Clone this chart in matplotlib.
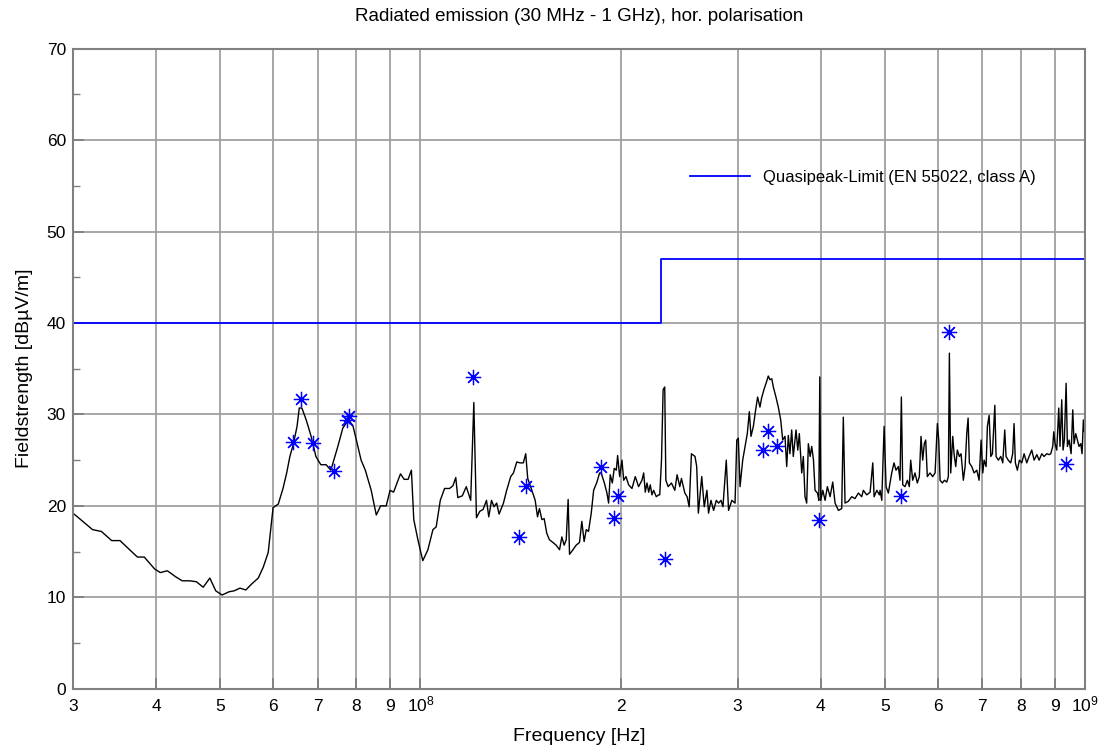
import matplotlib
matplotlib.use("Agg")
import matplotlib.pyplot as plt
from matplotlib.ticker import FixedLocator, NullFormatter, MultipleLocator

plt.rcParams['font.family'] = ['Liberation Sans', 'DejaVu Sans']
plt.rcParams['mathtext.fontset'] = 'custom'
plt.rcParams['mathtext.rm'] = 'Liberation Sans'
plt.rcParams['mathtext.default'] = 'regular'

# measured trace: frequency in MHz, level in dBuV/m
freq_mhz = [
    30.0, 32.1, 33.1, 34.3, 35.3, 37.5, 38.4, 39.8, 40.6, 41.6, 42.8, 43.8, 45.0, 46.0, 47.1, 48.2,
    49.2, 50.3, 51.5, 52.4, 53.5, 54.6, 55.7, 57.0, 58.0, 59.0, 60.0, 61.1, 62.1, 62.9, 63.6, 64.4,
    65.2, 65.7, 66.3, 67.3, 68.4, 69.6, 70.8, 72.1, 73.3, 75.1, 76.4, 77.9, 79.1, 80.2, 81.4, 82.6,
    84.3, 85.8, 87.1, 88.8, 90.0, 91.1, 93.3, 94.5, 95.8, 96.9, 97.7, 99.1, 100.8, 102.6, 104.4, 105.6,
    107.1, 108.7, 110.6, 111.9, 113.0, 113.8, 115.6, 117.2, 119.0, 120.3, 121.4, 122.8, 124.2, 125.7, 126.7, 127.9,
    129.0, 130.2, 131.3, 133.3, 134.8, 136.7, 138.0, 139.6, 141.2, 142.8, 144.0, 145.0, 147.1, 148.8, 150.0, 151.0,
    152.3, 153.5, 154.9, 156.3, 158.2, 160.0, 161.9, 163.2, 164.5, 165.7, 166.8, 167.6, 169.6, 171.5, 173.5, 174.9,
    176.3, 177.6, 179.0, 180.7, 182.2, 184.3, 186.0, 187.0, 189.1, 190.8, 191.9, 193.0, 194.4, 195.7, 197.1, 198.0,
    199.4, 201.0, 202.2, 203.8, 205.7, 208.1, 210.5, 212.9, 215.4, 216.7, 217.9, 219.2, 220.5, 221.7, 223.0, 224.3,
    226.4, 228.2, 229.1, 230.5, 231.8, 233.1, 234.0, 235.9, 238.6, 241.4, 243.3, 245.6, 247.0, 249.9, 251.9, 253.7,
    255.7, 258.9, 260.4, 261.9, 265.0, 267.3, 269.8, 271.3, 273.6, 276.1, 278.7, 280.9, 283.3, 285.2, 288.5, 290.8,
    294.1, 297.4, 299.2, 300.8, 302.6, 305.4, 307.9, 310.3, 312.5, 314.3, 316.9, 319.4, 321.6, 324.2, 326.1, 328.7,
    331.8, 333.7, 335.6, 337.8, 339.6, 342.7, 345.5, 348.4, 350.8, 353.6, 355.7, 357.7, 359.7, 361.9, 363.9, 367.4,
    369.6, 371.6, 374.7, 376.8, 379.0, 381.2, 383.4, 385.8, 387.9, 390.3, 392.4, 395.8, 397.6, 398.9, 400.3, 403.1,
    406.3, 409.5, 413.4, 417.2, 420.6, 425.5, 430.4, 432.8, 435.4, 440.4, 445.6, 450.7, 456.0, 461.3, 463.9, 469.4,
    474.9, 479.3, 481.5, 486.1, 490.5, 491.6, 494.5, 498.5, 501.9, 505.9, 511.8, 515.9, 519.5, 523.7, 526.8, 529.2,
    531.7, 536.0, 540.3, 544.0, 546.6, 550.4, 554.8, 559.3, 563.2, 566.5, 569.8, 573.0, 575.8, 579.0, 584.4, 589.8,
    594.8, 599.5, 602.4, 605.2, 610.0, 614.3, 619.4, 622.8, 625.0, 627.9, 632.3, 635.2, 638.9, 642.5, 647.0, 650.8,
    656.0, 660.0, 663.8, 666.9, 669.8, 675.4, 680.9, 687.3, 692.8, 697.6, 701.7, 704.9, 709.8, 713.0, 717.3, 721.5,
    725.5, 731.6, 734.8, 740.6, 746.8, 752.0, 757.2, 760.6, 766.4, 773.0, 778.3, 782.0, 785.6, 791.0, 796.6, 803.2,
    809.7, 817.2, 823.8, 831.5, 838.3, 846.2, 852.9, 860.9, 867.7, 876.0, 883.0, 888.0, 894.2, 897.3, 901.4, 906.7,
    913.0, 917.0, 922.5, 926.7, 930.9, 936.6, 940.8, 946.3, 952.9, 958.4, 962.7, 968.3, 973.9, 979.5, 985.4, 989.8,
    994.3, 997.7, 1000.0,
]
level_db = [
    19.2, 17.4, 17.2, 16.2, 16.2, 14.4, 14.4, 13.1, 12.7, 12.9, 12.25, 11.8, 11.8, 11.7, 11.1, 12.1,
    10.7, 10.25, 10.6, 10.7, 11.0, 10.8, 11.45, 12.1, 13.3, 14.9, 19.8, 20.2, 21.9, 23.6, 25.4, 26.8,
    28.7, 30.7, 30.7, 29.4, 27.7, 25.4, 24.5, 24.5, 23.9, 26.5, 28.5, 29.4, 28.8, 27.0, 25.0, 23.9,
    21.7, 19.0, 20.0, 20.0, 21.7, 21.5, 23.5, 22.9, 22.9, 23.9, 18.5, 16.3, 14.0, 15.2, 17.4, 17.7,
    20.6, 21.9, 21.9, 22.2, 23.1, 20.9, 21.1, 22.1, 20.6, 31.3, 18.7, 19.4, 19.6, 20.6, 18.8, 20.6,
    19.9, 20.3, 19.1, 20.3, 21.7, 23.2, 23.6, 24.8, 24.7, 24.7, 25.7, 23.0, 21.7, 20.6, 18.8, 19.7,
    18.5, 18.6, 17.0, 16.3, 16.0, 15.7, 15.2, 16.6, 15.7, 16.3, 20.7, 14.7, 15.2, 15.7, 16.0, 18.3,
    16.1, 17.4, 17.2, 19.2, 21.7, 22.6, 23.6, 23.6, 22.5, 21.4, 20.3, 23.4, 22.5, 24.1, 23.9, 25.5,
    23.2, 25.0, 22.8, 23.2, 22.3, 21.9, 23.2, 22.1, 22.8, 23.6, 21.5, 22.5, 21.5, 22.3, 21.2, 21.7,
    21.0, 21.2, 21.2, 25.0, 32.7, 33.0, 22.8, 22.1, 22.5, 21.7, 23.4, 22.1, 23.0, 21.4, 21.0, 19.9,
    25.7, 25.4, 24.3, 19.2, 23.2, 19.9, 21.7, 19.2, 20.6, 19.5, 20.6, 20.3, 20.6, 19.9, 25.0, 19.5,
    20.6, 20.3, 27.2, 27.4, 22.1, 25.0, 26.5, 27.9, 30.3, 27.6, 28.7, 30.5, 31.9, 30.8, 31.8, 32.7,
    33.6, 34.2, 33.8, 33.9, 33.0, 31.9, 30.8, 29.4, 27.2, 27.6, 24.3, 27.7, 25.7, 28.3, 25.4, 28.3,
    26.1, 27.9, 23.6, 25.4, 21.0, 20.3, 26.8, 25.4, 26.5, 25.0, 21.7, 21.4, 20.6, 34.1, 20.6, 21.7,
    20.6, 22.1, 21.0, 22.6, 20.3, 19.5, 19.7, 29.7, 20.3, 20.5, 21.0, 20.8, 21.4, 21.0, 21.7, 21.2,
    21.5, 24.7, 21.0, 21.7, 21.2, 21.7, 20.6, 28.7, 22.1, 21.4, 23.6, 24.7, 23.9, 24.3, 22.8, 31.9,
    22.3, 22.1, 22.8, 22.1, 25.0, 22.8, 23.6, 22.5, 23.2, 27.6, 25.0, 26.8, 27.2, 23.2, 23.6, 23.2,
    23.6, 29.0, 27.2, 22.8, 22.5, 22.8, 22.6, 23.2, 36.7, 23.6, 27.6, 25.7, 24.3, 26.1, 25.4, 25.7,
    22.8, 24.3, 27.9, 29.6, 24.7, 24.3, 23.6, 23.9, 22.8, 27.2, 23.6, 25.0, 24.3, 28.7, 29.9, 25.4,
    25.7, 31.0, 25.4, 25.0, 25.4, 24.7, 28.3, 25.4, 25.0, 24.7, 25.7, 29.0, 24.7, 23.9, 25.0, 24.7,
    25.7, 24.7, 25.4, 26.1, 25.0, 25.6, 25.0, 25.7, 25.4, 25.7, 25.6, 25.7, 26.5, 28.1, 26.8, 26.1,
    30.7, 26.5, 31.6, 26.1, 27.2, 33.4, 26.5, 27.2, 25.7, 30.5, 26.8, 27.9, 27.2, 26.5, 26.8, 25.7,
    29.4, 28.1, 29.0,
]

# quasipeak detector readings (markers)
qp_freq_mhz = [64.4, 66.1, 68.8, 74.0, 77.4, 78.1, 119.9, 140.8, 144.1, 187.0,
               195.7, 198.1, 233.6, 328.2, 333.8, 344.4, 398.5, 528.2, 624.3, 936.6]
qp_level_db = [27.0, 31.7, 26.9, 23.8, 29.4, 29.8, 34.1, 16.6, 22.2, 24.3,
               18.7, 21.1, 14.2, 26.1, 28.2, 26.5, 18.5, 21.1, 39.0, 24.6]

# EN 55022 class A limit (10 m)
limit_freq_mhz = [30, 230, 230, 1000]
limit_db = [40, 40, 47, 47]

tick_freqs = [3e7, 4e7, 5e7, 6e7, 7e7, 8e7, 9e7, 1e8, 2e8, 3e8, 4e8, 5e8, 6e8, 7e8, 8e8, 9e8, 1e9]
tick_labels = ["3", "4", "5", "6", "7", "8", "9", "10$^8$", "2", "3", "4", "5", "6", "7", "8", "9", "10$^9$"]

fig = plt.figure(figsize=(11.03, 7.46), dpi=100)
ax = fig.add_axes([0.0662, 0.0768, 0.9175, 0.8579])

ax.plot([f * 1e6 for f in freq_mhz], level_db, color="black", lw=1.0)
ax.plot([f * 1e6 for f in limit_freq_mhz], limit_db, color="#0000ff", lw=1.3,
        label="Quasipeak-Limit (EN 55022, class A)")
ax.plot([f * 1e6 for f in qp_freq_mhz], qp_level_db, linestyle="none",
        marker=(8, 2, 0), markersize=11, markeredgewidth=0.9, color="#0000ff")

ax.set_xscale("log")
ax.set_xlim(3e7, 1e9)
ax.set_ylim(0, 70)
ax.xaxis.set_major_locator(FixedLocator(tick_freqs))
ax.xaxis.set_minor_locator(FixedLocator([]))
ax.xaxis.set_minor_formatter(NullFormatter())
ax.set_xticklabels(tick_labels)
for lbl in ax.get_xticklabels():
    lbl.set_verticalalignment("baseline")
ax.yaxis.set_major_locator(MultipleLocator(10))
ax.yaxis.set_minor_locator(MultipleLocator(5))

ax.grid(True, which="major", color="#a0a0a0", lw=1.3)
ax.set_axisbelow(True)
ax.tick_params(which="both", direction="in", colors="#808080", labelcolor="black", labelsize=12.5)
ax.tick_params(axis="x", which="major", length=8, width=1.3, pad=16)
ax.tick_params(axis="y", which="major", length=8, width=1.3, pad=5)
ax.tick_params(which="minor", length=5, width=1.0)
for s in ax.spines.values():
    s.set_color("#808080")
    s.set_linewidth(1.5)

ax.set_title("Radiated emission (30 MHz - 1 GHz), hor. polarisation", fontsize=13.5, pad=20)
ax.set_xlabel("Frequency [Hz]", fontsize=14, labelpad=10)
ax.set_ylabel("Fieldstrength [dB\u00b5V/m]", fontsize=14, labelpad=10)

ax.legend(loc="center left", bbox_to_anchor=(0.6256, 0.7627), bbox_transform=fig.transFigure,
          frameon=False, fontsize=12, handlelength=3.6, handletextpad=0.8,
          borderpad=0, borderaxespad=0)

plt.savefig("out.png")
